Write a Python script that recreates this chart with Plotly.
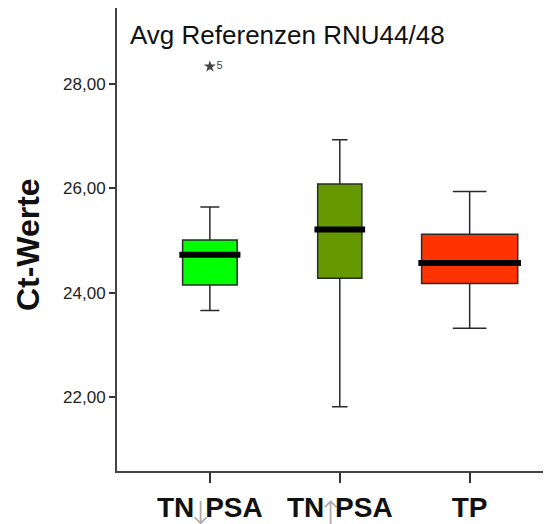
import plotly.graph_objects as go

# ---- data ----
categories = ["TN↓PSA", "TN↑PSA", "TP"]
q1_vals = [24.15, 24.28, 24.18]
median_vals = [24.73, 25.21, 24.57]
q3_vals = [25.01, 26.08, 25.12]
lower_whisker = [23.66, 21.82, 23.32]
upper_whisker = [25.64, 26.93, 25.94]
outlier_group = [0]
outlier_vals = [28.33]
outlier_labels = ["5"]
y_tick_vals = [22, 24, 26, 28]
y_tick_text = ["22,00", "24,00", "26,00", "28,00"]

# ---- style ----
FONT = "Liberation Sans, Arial, sans-serif"
box_colors = ["#00FF00", "#669900", "#FF3300"]
box_widths = [0.42, 0.34, 0.74]
ARROW = ("<span style='font-weight:bold;letter-spacing:-7px'>N</span>"
         "<span style='color:#a8a8a8;font-weight:200;font-size:32px;letter-spacing:-9px;"
         "font-family:DejaVu Sans;baseline-shift:-7px'>{}</span>")
tick_labels = [
    "<b>T</b>" + ARROW.format("↓") + "<b>PSA</b>",
    "<b>T</b>" + ARROW.format("↑") + "<b>PSA</b>",
    "<b>TP</b>",
]

fig = go.Figure()
for i, cat in enumerate(categories):
    fig.add_trace(go.Box(
        x=[i], q1=[q1_vals[i]], median=[median_vals[i]], q3=[q3_vals[i]],
        lowerfence=[lower_whisker[i]], upperfence=[upper_whisker[i]],
        width=box_widths[i], whiskerwidth=0.35,
        fillcolor=box_colors[i], line=dict(color="#2a2a2a", width=1.5),
        boxpoints=False, showlegend=False, name=cat, hoverinfo="skip",
    ))
    half = box_widths[i] / 2 + 0.025
    fig.add_trace(go.Scatter(
        x=[i - half, i + half], y=[median_vals[i], median_vals[i]],
        mode="lines", line=dict(color="black", width=6),
        showlegend=False, hoverinfo="skip",
    ))

fig.add_trace(go.Scatter(
    x=outlier_group, y=outlier_vals, mode="markers+text",
    marker=dict(symbol="star", size=9, color="#444444"),
    text=outlier_labels, textposition="middle right",
    textfont=dict(family=FONT, size=11, color="#444444"),
    showlegend=False, hoverinfo="skip",
))

fig.add_annotation(
    text="Avg Referenzen RNU44/48", xref="paper", yref="paper",
    x=0.025, y=0.942, xanchor="left", yanchor="middle", showarrow=False,
    font=dict(family=FONT, size=26, color="#111111"),
)
fig.add_annotation(
    text="<b>Ct-Werte</b>", xref="paper", yref="paper", textangle=-90,
    x=-0.208, y=0.49, xanchor="center", yanchor="middle", showarrow=False,
    font=dict(family=FONT, size=32, color="#111111"),
)

# page body has an 8px default margin, so the figure is sized/offset to compensate
fig.update_layout(
    width=543, height=516,
    margin=dict(l=109, r=6, t=0, b=53, autoexpand=False),
    paper_bgcolor="white", plot_bgcolor="white",
    boxmode="overlay",
    xaxis=dict(
        range=[-0.715, 2.58], tickmode="array", tickvals=[0, 1, 2],
        ticktext=tick_labels, ticks="outside", ticklen=10, tickwidth=1.5,
        tickcolor="#333333", showgrid=False, zeroline=False, automargin=False,
        showline=True, linecolor="#444444", linewidth=2, mirror=True,
        tickfont=dict(family=FONT, size=28, color="#111111"),
    ),
    yaxis=dict(
        range=[20.59, 29.45], tickmode="array", tickvals=y_tick_vals,
        ticktext=y_tick_text, ticks="outside", ticklen=6, tickwidth=1.5,
        tickcolor="#333333", showgrid=False, zeroline=False, automargin=False,
        showline=True, linecolor="#444444", linewidth=2, mirror=True,
        tickfont=dict(family=FONT, size=17, color="#222222"),
    ),
)

fig.write_html("out.html")
